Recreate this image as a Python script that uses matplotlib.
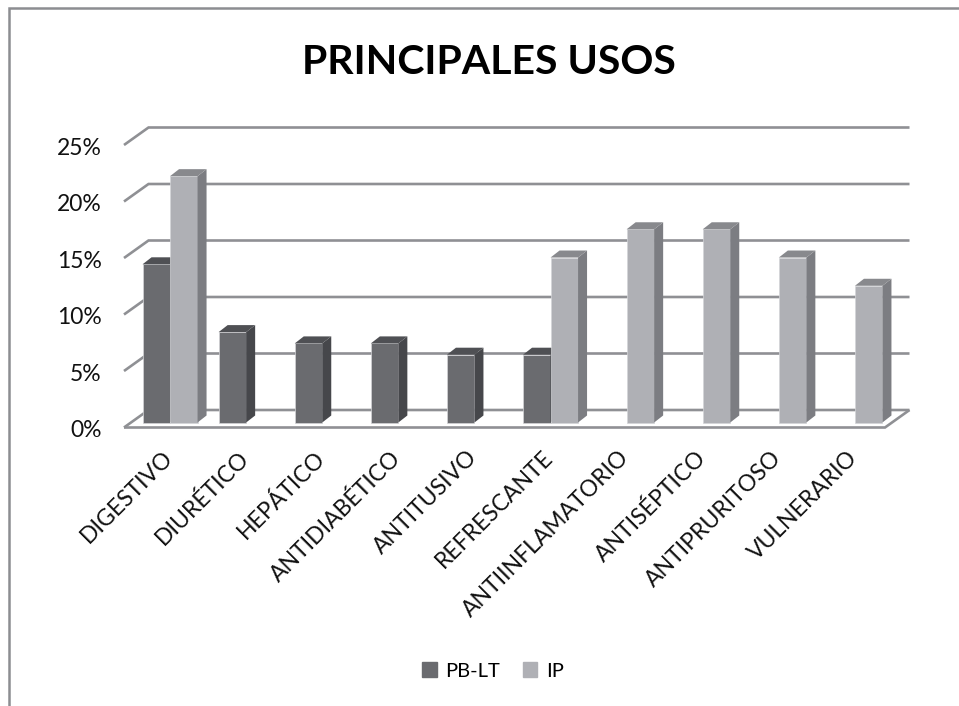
from matplotlib import pyplot as plt
from matplotlib.lines import Line2D
from matplotlib.patches import Patch
from matplotlib.transforms import ScaledTranslation

plt.rcParams['font.family'] = ['Lato', 'DejaVu Sans']

# Data
categories = ['DIGESTIVO', 'DIURÉTICO', 'HEPÁTICO', 'ANTIDIABÉTICO', 'ANTITUSIVO',
              'REFRESCANTE', 'ANTIINFLAMATORIO', 'ANTISÉPTICO', 'ANTIPRURITOSO', 'VULNERARIO']
pb_lt = [14, 8, 7, 7, 6, 6, 0, 0, 0, 0]
ip = [21.8, 0, 0, 0, 0, 14.6, 17.1, 17.1, 14.6, 12.1]
y_ticks = [0, 5, 10, 15, 20, 25]
y_labels = ['0%', '5%', '10%', '15%', '20%', '25%']

# Fake 3D depth, in data units (one category = 76.1 px, 1% = 11.3 px)
WALL_DX, WALL_DY = 24.5 / 76.1, 17.5 / 11.3
BAR_DX, BAR_DY = 9 / 76.1, 7 / 11.3
BAR_SHIFT_X, BAR_SHIFT_Y = 8 / 76.1, 5 / 11.3
BAR_W = 27.5 / 76.1
GRID = '#8f9094'

fig = plt.figure(figsize=(9.59, 7.06), dpi=100)
ax = fig.add_axes([124 / 959, 1 - 427.5 / 706, 761 / 959, 282.5 / 706])
ax.set_xlim(-0.5, 9.5)
ax.set_ylim(0, 25)
for spine in ax.spines.values():
    spine.set_visible(False)

# Back wall gridlines and their diagonals
x0, x1 = -0.5, 9.5
for y in y_ticks:
    ax.plot([x0, x0 + WALL_DX, x1 + WALL_DX], [y, y + WALL_DY, y + WALL_DY],
            color=GRID, lw=1.9, clip_on=False, zorder=1, solid_joinstyle='miter',
            solid_capstyle='butt')
# Floor
ax.plot([x0, x1, x1 + WALL_DX], [0, 0, WALL_DY], color=GRID, lw=1.9, clip_on=False, zorder=1,
        solid_joinstyle='miter', solid_capstyle='butt')


def draw_bar(x, h, front, side, top, z):
    left = x + BAR_SHIFT_X - (BAR_W if front == '#6a6b6f' else 0)
    right = left + BAR_W
    base = BAR_SHIFT_Y
    ax.bar(left, h, width=BAR_W, bottom=base, align='edge', color=front,
           edgecolor='#d4d5d8', linewidth=0.5, clip_on=False, zorder=z)
    ax.fill([right, right + BAR_DX, right + BAR_DX, right],
            [base, base + BAR_DY, base + h + BAR_DY, base + h],
            color=side, lw=0, clip_on=False, zorder=z)
    ax.fill([left, left + BAR_DX, right + BAR_DX, right],
            [base + h, base + h + BAR_DY, base + h + BAR_DY, base + h],
            color=top, lw=0, clip_on=False, zorder=z)


for i in range(len(categories)):
    if pb_lt[i] > 0:
        draw_bar(i, pb_lt[i], '#6a6b6f', '#46474b', '#4f5054', 3)
    if ip[i] > 0:
        draw_bar(i, ip[i], '#afb0b5', '#7c7d82', '#88898d', 4)

ax.set_yticks(y_ticks)
ax.set_yticklabels(y_labels, fontsize=16.5, color='#111111')
ax.set_xticks(range(len(categories)))
ax.set_xticklabels(categories, rotation=45, ha='right', va='top', rotation_mode='anchor',
                   fontsize=16.5, color='#111111')
ax.tick_params(axis='both', length=0)
ax.tick_params(axis='y', pad=16)
ax.tick_params(axis='x', pad=14)
# y labels sit a bit lower in the reference
nudge = ScaledTranslation(0, -1 / 72, fig.dpi_scale_trans)
for lbl in ax.get_yticklabels():
    lbl.set_transform(lbl.get_transform() + nudge)

fig.text(488.5 / 959, 1 - 62 / 706, 'PRINCIPALES USOS', fontsize=29.5, fontweight='bold',
         ha='center', va='center', color='black')

fig.legend(handles=[Patch(color='#6a6b6f', label='PB-LT'), Patch(color='#afb0b5', label='IP')],
           loc='center', bbox_to_anchor=(493 / 959, 1 - 671 / 706), ncol=2, frameon=False,
           fontsize=14.5, handlelength=0.72, handleheight=0.72, handletextpad=0.45, columnspacing=1.1)

# Frame of the pasted chart, only top and left are in the crop
fig.add_artist(Line2D([9 / 959, 9 / 959, 1], [0, 1 - 8 / 706, 1 - 8 / 706], color='#8c8d91', lw=1.8,
                      solid_joinstyle='miter'))

fig.savefig('out.png', dpi=100)
